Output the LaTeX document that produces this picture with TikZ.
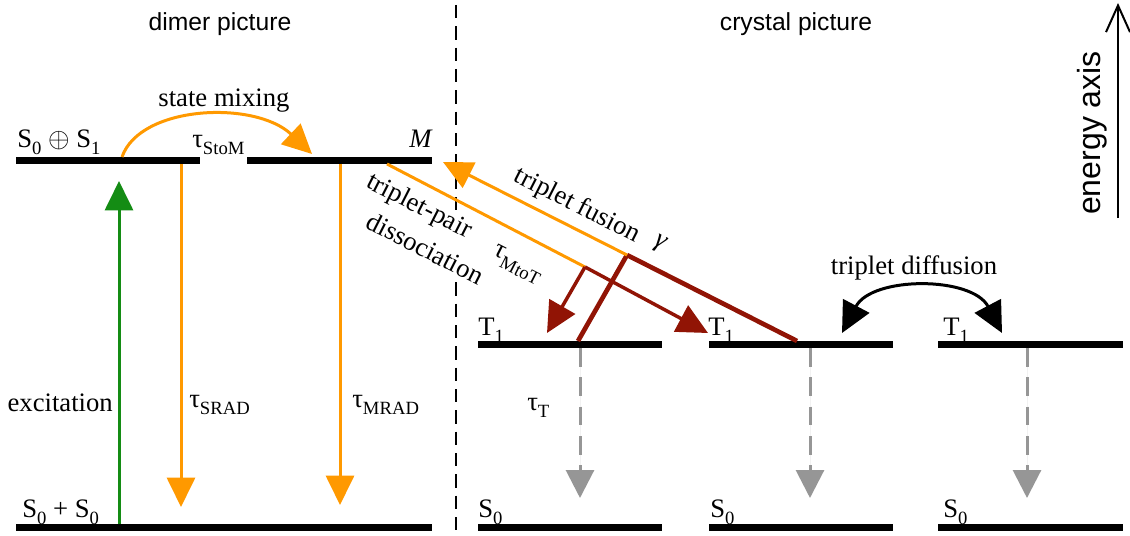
\documentclass[tikz,border=0pt]{standalone}
\usepackage{fontspec}
\setmainfont{Liberation Serif}
\newfontfamily\headfont{Liberation Sans}
\usetikzlibrary{arrows.meta}
\definecolor{orng}{RGB}{255,153,0}
\definecolor{grn}{RGB}{20,140,20}
\definecolor{dred}{RGB}{145,20,5}
\definecolor{gry}{RGB}{150,150,150}
\newcommand\tsub[1]{\raisebox{-0.28em}{\fontsize{14}{14}\selectfont #1}}
\begin{document}
\begin{tikzpicture}[x=0.75pt,y=-0.75pt,
  level/.style={line width=5.25pt},
  txt/.style={font=\fontsize{20}{24}\selectfont, inner sep=0pt},
  masked/.style={txt, fill=white, inner sep=1pt},
  hd/.style={font=\headfont\fontsize{18.5}{22}\selectfont, inner sep=0pt},
  tri/.style={-{Triangle[length=22pt,width=21pt]}},
  orarrow/.style={tri, draw=orng, fill=orng, line width=2.25pt},
  grarrow/.style={tri, draw=grn, fill=grn, line width=2.25pt},
  rdarrow/.style={-{Triangle[length=23pt,width=22pt]}, draw=dred, fill=dred, line width=2.6pt},
  rdline/.style={draw=dred, line width=3.5pt},
  gyarrow/.style={-{Triangle[length=21pt,width=21pt]}, draw=gry, fill=gry, line width=2.25pt, dash pattern=on 14pt off 8pt},
  bkarrow/.style={{Triangle[length=23pt,width=22pt]}-{Triangle[length=23pt,width=22pt]}, line width=2.25pt},
]
\useasboundingbox (0,0) rectangle (1130,535);

% divider (drawn first, masked by labels)
\coordinate (divT) at (456,5); \coordinate (divB) at (456,535);
\draw[line width=1.5pt, dash pattern=on 10pt off 6pt] (divT) -- (divB);

% level coordinates
\coordinate (SSw) at (16,160);  \coordinate (SSe) at (200,160);
\coordinate (Mw) at (247,160);  \coordinate (Me) at (432,160);
\coordinate (Gw) at (16,527);   \coordinate (Ge) at (432,527);
\coordinate (Taw) at (478,344); \coordinate (Tae) at (662,344);
\coordinate (Tbw) at (709,344); \coordinate (Tbe) at (893,344);
\coordinate (Tcw) at (938,344); \coordinate (Tce) at (1123,344);
\coordinate (Saw) at (478,527); \coordinate (Sae) at (662,527);
\coordinate (Sbw) at (709,527); \coordinate (Sbe) at (893,527);
\coordinate (Scw) at (938,527); \coordinate (Sce) at (1123,527);

\foreach \a/\b in {SSw/SSe,Mw/Me,Gw/Ge,Taw/Tae,Tbw/Tbe,Tcw/Tce,Saw/Sae,Sbw/Sbe,Scw/Sce}
  \draw[level] (\a) -- (\b);

% energy axis
\coordinate (eaB) at (1118,218); \coordinate (eaT) at (1118,3);
\draw[line width=1.5pt, -{Straight Barb[length=20pt,width=18pt]}] (eaB) -- (eaT);
\node[hd, font=\headfont\fontsize{24}{28}\selectfont, rotate=90, anchor=base] (ealab) at (1100,133) {energy axis};

% headings
\node[hd, anchor=base] (dimer) at (220,31) {dimer picture};
\node[hd, anchor=base] (crystal) at (796,31) {crystal picture};

% diagonal labels (masking the divider)
\node[masked, rotate=-27, align=left, font=\fontsize{20}{27.4}\selectfont] (ltp) at (426,228)
  {triplet-pair\\\hspace*{13.5pt}dissociation};
\node[masked, rotate=-27] (lfus) at (577,206) {triplet fusion};
\node[txt, rotate=-27] (lgam) at (660,244) {\textit{γ}};
\node[txt, rotate=-27] (lMtoT) at (517,265) {τ\tsub{MtoT}};

% dimer arrows
\coordinate (excS) at (119,524); \coordinate (excE) at (119,181);
\draw[grarrow] (excS) -- (excE);
\coordinate (sradS) at (181,164); \coordinate (sradE) at (181,507);
\draw[orarrow] (sradS) -- (sradE);
\coordinate (mradS) at (340,164); \coordinate (mradE) at (340,505);
\draw[orarrow] (mradS) -- (mradE);
\coordinate (smS) at (122,157); \coordinate (smE) at (312,154);
\draw[orarrow, fill=none] (smS) .. controls (140,105) and (255,100) .. (smE);

% dimer labels
\node[txt, anchor=base west] (lSS) at (17,147) {S\tsub{0} $\oplus$ S\tsub{1}};
\node[txt, anchor=base west] (lStoM) at (192,147) {τ\tsub{StoM}};
\node[txt, anchor=base east] (lM) at (433,147) {\textit{M}};
\node[txt, anchor=base] (lsm) at (224,106) {state mixing};
\node[txt, anchor=base east] (lexc) at (113,411) {excitation};
\node[txt, anchor=base west] (lsrad) at (189,407) {τ\tsub{SRAD}};
\node[txt, anchor=base west] (lmrad) at (352,407) {τ\tsub{MRAD}};
\node[txt, anchor=base west] (lG) at (22,517) {S\tsub{0} + S\tsub{0}};

% triplet-pair dissociation
\coordinate (dS) at (387,164); \coordinate (dJ) at (585,267);
\coordinate (dE1) at (708,333); \coordinate (dE2) at (547,333);
\draw[draw=orng, line width=2.25pt] (dS) -- (dJ);
\draw[rdarrow] (dJ) -- (dE1);
\draw[rdarrow] (dJ) -- (dE2);

% triplet fusion
\coordinate (fA) at (797,341); \coordinate (fB) at (578,341);
\coordinate (fJ) at (627,255); \coordinate (fE) at (443,162);
\draw[rdline] (fA) -- (fJ);
\draw[rdline] (fB) -- (fJ);
\draw[orarrow] (fJ) -- (fE);

% triplet decay
\coordinate (tdaS) at (580,348); \coordinate (tdaE) at (580,498);
\coordinate (tdbS) at (810,348); \coordinate (tdbE) at (810,498);
\coordinate (tdcS) at (1027,348); \coordinate (tdcE) at (1027,498);
\draw[gyarrow] (tdaS) -- (tdaE);
\draw[gyarrow] (tdbS) -- (tdbE);
\draw[gyarrow] (tdcS) -- (tdcE);

% diffusion
\coordinate (dfA) at (842,333); \coordinate (dfB) at (1002,333);
\draw[bkarrow] (dfA) .. controls (872,276) and (972,276) .. (dfB);
\node[txt, anchor=base] (ldif) at (914,274) {triplet diffusion};

% crystal labels
\node[txt, anchor=base west] (lTa) at (478,335) {T\tsub{1}};
\node[txt, anchor=base west] (lTb) at (708,335) {T\tsub{1}};
\node[txt, anchor=base west] (lTc) at (943,335) {T\tsub{1}};
\node[txt, anchor=base west] (lSa) at (478,517) {S\tsub{0}};
\node[txt, anchor=base west] (lSb) at (710,517) {S\tsub{0}};
\node[txt, anchor=base west] (lSc) at (943,517) {S\tsub{0}};
\node[txt, anchor=base west] (ltauT) at (527,410) {τ\tsub{T}};
\end{tikzpicture}
\end{document}
